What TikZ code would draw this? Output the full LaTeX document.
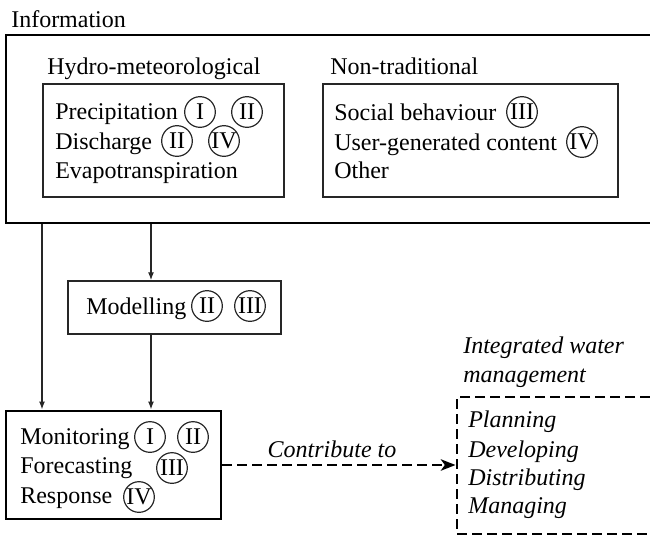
\documentclass[tikz,border=0pt]{standalone}
\usepackage{fontspec}
\setmainfont{Liberation Serif}
\usetikzlibrary{arrows.meta,fit}
\begin{document}
\begin{tikzpicture}[x=0.75pt,y=-0.75pt,
  txt/.style={anchor=base west,inner sep=0pt,font=\fontsize{18}{22}\selectfont,text=black},
  itxt/.style={txt,font=\fontsize{18}{22}\selectfont\itshape},
  numc/.style={circle,draw=black!85,line width=0.9pt,inner sep=0pt,minimum size=23pt,font=\fontsize{18}{22}\selectfont,text=black},
  thinbox/.style={draw=black!85,line width=1.1pt,inner sep=0pt},
  thickbox/.style={draw=black,line width=2.2pt,inner sep=0pt},
  dashbox/.style={draw=black,line width=2.2pt,inner sep=0pt,dash pattern=on 7.5pt off 3.75pt},
  arr/.style={draw=black!85,line width=1pt,-{Latex[length=6pt,width=4.5pt]}},
  dasharr/.style={draw=black,line width=2.2pt,dash pattern=on 7.5pt off 3.75pt,-{Stealth[length=11pt,width=8.5pt,inset=3pt]}}
]
\useasboundingbox (0,0) rectangle (650,537);

% Information
\node[txt] (infolbl) at (11,27) {Information};
\node[thickbox,fit={(6,35) (665,223)}] (outer) {};

% Hydro-meteorological
\node[txt] (hydrolbl) at (47,74) {Hydro-meteorological};
\node[thinbox,fit={(43,84) (284,197)}] (hydro) {};
\node[txt] (prec) at (55,119) {Precipitation};
\node[numc] (precI) at (200,112) {I};
\node[numc] (precII) at (247,112) {II};
\node[txt] (disc) at (55,149) {Discharge};
\node[numc] (discII) at (177,141) {II};
\node[numc] (discIV) at (224,141) {IV};
\node[txt] (evap) at (55,178) {Evapotranspiration};

% Non-traditional
\node[txt] (nontlbl) at (330,74) {Non-traditional};
\node[thinbox,fit={(323,84) (618,197)}] (nont) {};
\node[txt] (soc) at (334,120) {Social behaviour};
\node[numc] (socIII) at (522,112) {III};
\node[txt] (ugc) at (334,150) {User-generated content};
\node[numc] (ugcIV) at (582,142) {IV};
\node[txt] (oth) at (334,178) {Other};

% Modelling
\node[thinbox,fit={(68,281) (281,334)}] (model) {};
\node[txt] (modtxt) at (86,314) {Modelling};
\node[numc] (modII) at (207,306) {II};
\node[numc] (modIII) at (250,306) {III};

% Monitoring
\node[thickbox,fit={(6,411) (221,519)}] (monitor) {};
\node[txt] (mon) at (20,444) {Monitoring};
\node[numc] (monI) at (150,437) {I};
\node[numc] (monII) at (193,437) {II};
\node[txt] (fore) at (20,473) {Forecasting};
\node[numc] (foreIII) at (172,468) {III};
\node[txt] (resp) at (20,503) {Response};
\node[numc] (respIV) at (139,497) {IV};

% Integrated water management
\node[itxt] (iwm1) at (463,353) {Integrated water};
\node[itxt] (iwm2) at (463,382) {management};
\node[dashbox,fit={(457,397) (665,534)}] (iwm) {};
\node[itxt] (plan) at (468,427) {Planning};
\node[itxt] (dev) at (468,457) {Developing};
\node[itxt] (dist) at (468,485) {Distributing};
\node[itxt] (mana) at (468,513) {Managing};

% connectors
\coordinate (xa) at (42,0);
\coordinate (xb) at (151,0);
\draw[arr] (outer.south -| xa) -- (monitor.north -| xa);
\draw[arr] (outer.south -| xb) -- (model.north -| xb);
\draw[arr] (model.south -| xb) -- (monitor.north -| xb);
\draw[dasharr] (monitor.east) -- (monitor.east -| iwm.west)
  node[pos=0.47,anchor=base,yshift=5.5pt,inner sep=0pt,font=\fontsize{18}{22}\selectfont\itshape,text=black] (contr) {Contribute to};
\end{tikzpicture}
\end{document}
